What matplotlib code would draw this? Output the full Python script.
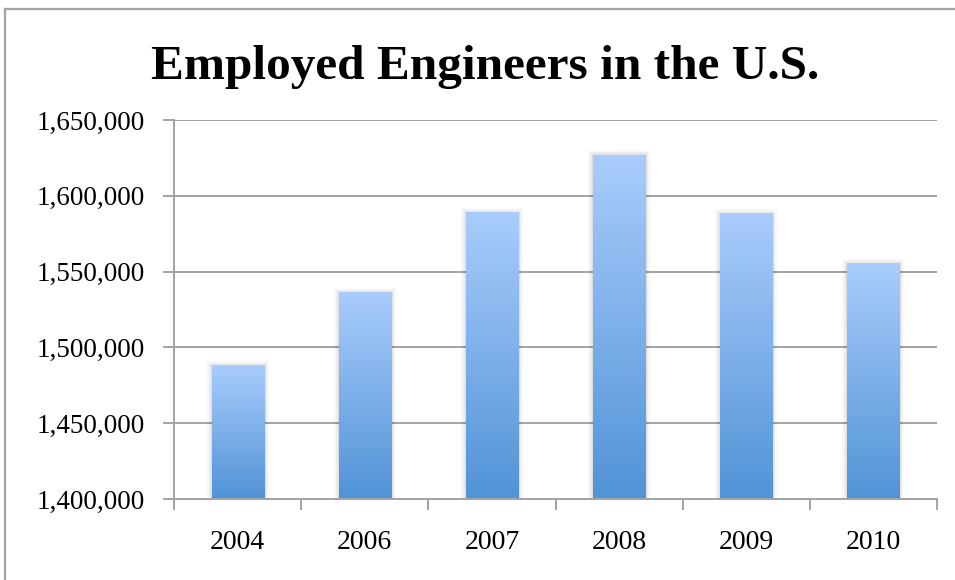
#!/usr/bin/env python3
"""Bar chart of employed engineers in the U.S. by year"""
import matplotlib
matplotlib.use("Agg")
import matplotlib.pyplot as plt
import matplotlib.patheffects as pe
import numpy as np
from matplotlib.lines import Line2D
from matplotlib.colors import LinearSegmentedColormap
from matplotlib.ticker import FuncFormatter, MultipleLocator

years = ["2004", "2006", "2007", "2008", "2009", "2010"]
engineers = [1487800, 1536000, 1588900, 1626600, 1588200, 1555200]

W, H = 955, 580
fig = plt.figure(figsize=(W / 100, H / 100), dpi=100)
fig.patch.set_facecolor("white")

# axes box in pixel units
left, right, top, bottom = 174, 937, 120, 499
ax = fig.add_axes([left / W, 1 - bottom / H, (right - left) / W, (bottom - top) / H])

grey = "#a3a3a3"
serif = "Liberation Serif"
ymin, ymax = 1400000, 1650000

x = np.arange(len(years))
shadow = [
    pe.Stroke(linewidth=7, foreground="black", alpha=0.03),
    pe.Stroke(linewidth=4, foreground="black", alpha=0.05),
    pe.Stroke(linewidth=2, foreground="black", alpha=0.06),
    pe.Normal(),
]
bars = ax.bar(x, engineers, width=0.41, color="#7fb0ec", zorder=3,
              path_effects=shadow)

# vertical gradient: light blue on top, darker blue at the base
grad = LinearSegmentedColormap.from_list("bar", ["#5193d7", "#a9ccfc"])
ramp = np.linspace(0, 1, 256).reshape(-1, 1)
for b in bars:
    x0 = b.get_x()
    y0 = max(b.get_y(), ymin)
    y1 = b.get_y() + b.get_height()
    ax.imshow(ramp, cmap=grad, origin="lower", aspect="auto", zorder=4,
              extent=[x0, x0 + b.get_width(), y0, y1],
              interpolation="bilinear")

ax.set_xlim(-0.5, len(years) - 0.5)
ax.set_ylim(ymin, ymax)
ax.yaxis.set_major_locator(MultipleLocator(50000))
ax.yaxis.set_major_formatter(FuncFormatter(lambda v, p: f"{int(v):,}"))

ax.set_xticks(x)
ax.set_xticklabels(years)
ax.set_xticks(np.arange(-0.5, len(years)), minor=True)

ax.grid(axis="y", color=grey, linewidth=1.4, zorder=0)
ax.set_axisbelow(True)
for side in ["top", "right"]:
    ax.spines[side].set_visible(False)
for side in ["left", "bottom"]:
    ax.spines[side].set_color(grey)
    ax.spines[side].set_linewidth(1.4)
    ax.spines[side].set_zorder(5)

ax.tick_params(axis="y", length=8, width=1.4, color=grey, pad=13,
               labelsize=19.5)
ax.tick_params(axis="x", which="major", length=0, pad=22, labelsize=20)
ax.tick_params(axis="x", which="minor", length=8, width=1.4, color=grey)
for lab in ax.get_xticklabels() + ax.get_yticklabels():
    lab.set_fontfamily(serif)

fig.text(485 / W, 1 - 79 / H, "Employed Engineers in the U.S.",
         ha="center", va="baseline", fontsize=35.5, fontweight="bold",
         fontfamily=serif)

# outer chart frame (top and left edges)
fig.add_artist(Line2D([5 / W, 1], [1 - 9 / H] * 2, transform=fig.transFigure,
                      color=grey, linewidth=1.6))
fig.add_artist(Line2D([5 / W] * 2, [0, 1 - 9 / H], transform=fig.transFigure,
                      color=grey, linewidth=1.6))

fig.savefig("out.png", dpi=100)
